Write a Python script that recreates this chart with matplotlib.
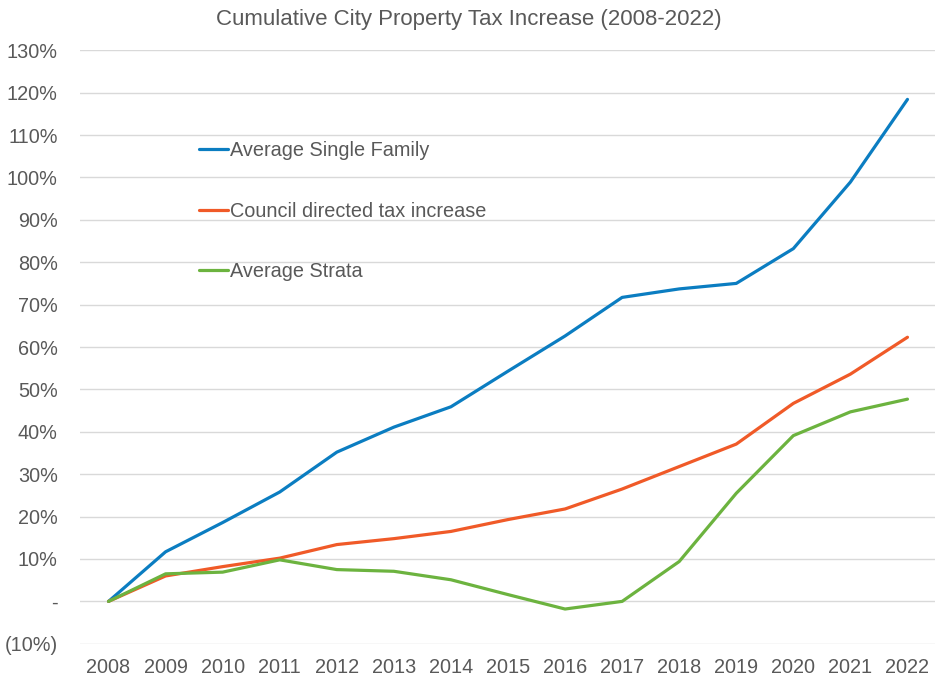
import matplotlib
matplotlib.use("Agg")
import matplotlib.pyplot as plt
from matplotlib.ticker import FuncFormatter, MultipleLocator

years = ["2008", "2009", "2010", "2011", "2012", "2013", "2014", "2015",
         "2016", "2017", "2018", "2019", "2020", "2021", "2022"]
single_family = [0, 11.7, 18.6, 25.8, 35.2, 41.1, 45.9, 54.3, 62.6, 71.7, 73.7, 75.0, 83.2, 98.9, 118.4]
council = [0, 6.0, 8.2, 10.2, 13.4, 14.8, 16.5, 19.3, 21.8, 26.5, 31.8, 37.1, 46.7, 53.6, 62.3]
strata = [0, 6.5, 6.9, 9.8, 7.5, 7.1, 5.1, 1.6, -1.8, 0.0, 9.4, 25.5, 39.1, 44.7, 47.7]

labels = ["Average Single Family", "Council directed tax increase", "Average Strata"]
colors = ["#0b7dc1", "#f05a28", "#6cb33f"]
text_color = "#595959"

plt.rcParams["font.family"] = ["Liberation Sans", "DejaVu Sans"]

fig = plt.figure(figsize=(9.35, 6.79), dpi=100)
ax = fig.add_axes([80 / 935, 35 / 679, 856 / 935, 594 / 679])

x = list(range(len(years)))
for series, lab, c in zip([single_family, council, strata], labels, colors):
    ax.plot(x, series, color=c, lw=2.3, label=lab, solid_capstyle="round", solid_joinstyle="round")

ax.set_xlim(-0.5, len(years) - 0.5)
ax.set_ylim(-10.05, 130.05)
ax.yaxis.set_major_locator(MultipleLocator(10))
ax.set_xticks(x)
ax.set_xticklabels(years)


def fmt(v, pos):
    v = round(v)
    if v == 0:
        return "-"
    if v < 0:
        return f"({-v}%)"
    return f"{v}%"


ax.yaxis.set_major_formatter(FuncFormatter(fmt))
ax.grid(axis="y", color="#d9d9d9", lw=1.0)
ax.set_axisbelow(True)
for s in ax.spines.values():
    s.set_visible(False)
ax.tick_params(length=0, labelsize=14.3, colors=text_color)
ax.tick_params(axis="x", pad=10)
ax.tick_params(axis="y", pad=16)
for t in ax.get_yticklabels():
    t.set_horizontalalignment("right")

leg = ax.legend(loc="upper left", bbox_to_anchor=(119 / 856, (644 - 141) / 594),
                frameon=False, fontsize=14.3, labelcolor=text_color,
                handlelength=1.45, handletextpad=0.12, labelspacing=2.1,
                borderaxespad=0, borderpad=0)

fig.text(469 / 935, 1 - 19 / 679, "Cumulative City Property Tax Increase (2008-2022)",
         ha="center", va="center", fontsize=16, color=text_color)

fig.savefig("out.png", dpi=100)
